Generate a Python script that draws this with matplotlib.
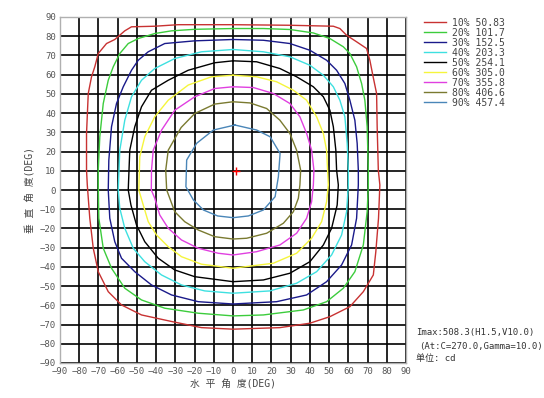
import matplotlib
matplotlib.use("Agg")
import matplotlib.pyplot as plt

plt.rcParams['font.family'] = ['DejaVu Sans Mono', 'Noto Sans CJK SC']

# iso-candela contours, points (H deg, V deg), going round from the top
c10_x = [0, -28.5, -40.7, -52.8, -56.3, -61.5, -65.8, -70.1, -71.9, -73.6, -75.3, -76.2, -76.2, -75.8, -74.5, -72.7,
         -70.1, -64.9, -58, -47.6, -32, -16.4, 0, 24.4, 40, 50.4, 60.8, 67.8, 73, 74.3, 75.7, 76.4, 75.6, 75, 74.7,
         72.9, 71.2, 69.5, 64.3, 59.1, 55.6, 52.2, 29.6]
c10_y = [86, 86, 85.2, 84.9, 82.8, 78.3, 76.2, 71, 64.1, 58.9, 50.2, 29.4, 10.3, 2.6, -14.7, -30.3,
         -42.5, -52.9, -59.8, -65, -68.4, -71.6, -72.4, -71.6, -69.3, -65.9, -60.7, -52.9, -44.2, -32.1, -14.7, 2.6,
         10.3, 32.9, 50.2, 58.9, 67.5, 73.6, 77.1, 80.5, 84, 85.2, 85.7]

c20_x = [0, -19.9, -32, -40.7, -49.3, -54.5, -58.9, -62.3, -64.9, -67.5, -69.3, -70.1, -70.1, -69.8, -67.5, -63.2,
         -56.3, -47.6, -35.5, -18.1, 0, 15.8, 36.6, 48.7, 57.4, 63.4, 67.8, 69.8, 70.4, 70.4, 69.8, 68.6, 66.9, 64.3,
         60.8, 57.4, 50.4, 41.8, 29.6, 15.8]
c20_y = [84, 83.6, 82.8, 81.4, 78.8, 76.2, 71, 64.1, 57.1, 45, 27.7, 10.3, 2.6, -14.7, -30.3, -40.7,
         -51.1, -57.2, -61.5, -64.1, -65.5, -65, -62.4, -58.1, -51.1, -42.5, -28.6, -11.3, 2.6, 10.3, 32.9, 46.7, 55.4,
         64.1, 71, 74.5, 78.8, 81.7, 83.5, 84]

c30_x = [0, -19.9, -35.5, -44.1, -49.3, -52.8, -57.1, -60.6, -63.2, -64.6, -64.9, -64.1, -61.5, -58, -51.1, -42.4,
         -32, -18.1, 0, 22.7, 38.3, 48.7, 56.5, 61.7, 64.3, 65.2, 65.2, 64.6, 63.4, 60.8, 58.2, 53.9, 48.7, 40, 29.6,
         15.8]
c30_y = [78.3, 77.6, 76.2, 71.9, 67.5, 62.3, 53.7, 45, 32.9, 15.5, 0, -14.7, -26.9, -35.5, -42.5, -49.4,
         -54.6, -58.1, -59.3, -58.1, -54.6, -47.7, -39, -28.6, -14.7, 2.6, 10.3, 24.2, 36.3, 46.7, 55.4, 62.3, 67.5,
         72.7, 76.2, 77.9]

c40_x = [0, -16.4, -30.3, -40.7, -47.6, -52.8, -56.3, -58.9, -59.7, -58.9, -56.3, -51.9, -45.9, -37.2, -26.8, -14.7,
         0, 19.2, 33.1, 43.5, 51.3, 56.5, 59.1, 60, 60, 59.4, 58.2, 55.6, 52.2, 47, 40, 29.6, 15.8]
c40_y = [73.1, 71.9, 68.4, 63.2, 57.1, 48.5, 36.3, 20.7, 0, -9.5, -19.9, -30.3, -37.3, -44.2, -49.4, -52.5,
         -53.7, -52.5, -48.5, -42.5, -33.8, -23.4, -11.3, 2.6, 10.3, 24.2, 38.1, 46.7, 53.7, 59.7, 64.9, 69.3, 71.9]

c50_x = [0, -9.5, -23.3, -33.7, -42.4, -47.6, -51.1, -53.7, -54.5, -53.1, -50.2, -45.9, -38.9, -30.3, -19.9, 0,
         15.8, 29.6, 40, 47, 51.3, 54.2, 54.8, 53.9, 53.5, 52.2, 50.4, 47, 41.8, 33.1, 24.4, 12.3]
c50_y = [67.2, 66.2, 62.3, 57.1, 51.9, 43.3, 32.9, 20.7, 0, -7.8, -18.2, -26.9, -35.5, -41.6, -45.1, -47.7,
         -46.8, -43.3, -37.3, -28.6, -19.9, -7.8, 2.6, 10.3, 20.7, 32.9, 41.5, 48.5, 53.7, 58.9, 63.2, 66.7]

c60_x = [0, -11.2, -23.3, -33.7, -40.7, -45.9, -48.5, -49, -47.2, -44.1, -39.8, -33.7, -26.8, -16.4, 0, 21,
         33.1, 40.9, 46.1, 48.7, 49.6, 49.2, 48.7, 47, 43.5, 38.3, 31.4, 22.7, 12.3]
c60_y = [59.7, 58.9, 54.6, 46.7, 38.1, 27.7, 17.3, 0, -6.1, -16.5, -23.4, -29.5, -34.7, -38.6, -40.7, -38.1,
         -32.9, -25.1, -16.5, -6.1, 2.6, 10.3, 20.7, 29.4, 38.1, 46.7, 51.9, 56.3, 58.9]

c70_x = [0, -9.5, -19.9, -30.3, -37.2, -41.5, -42.4, -42.5, -40.7, -38.1, -33.7, -26.8, -18.1, -7.7, 0, 12.3,
         24.4, 33.1, 38.3, 40.9, 41.8, 42.1, 40.9, 38.3, 34.8, 29.6, 21, 10.6]
c70_y = [53.7, 52.8, 48.5, 41.5, 31.1, 20.7, 10.3, 0, -4.3, -13, -19.9, -26, -30.3, -32.9, -33.8, -32.1,
         -28.6, -22.5, -14.7, -6.1, 2.6, 10.3, 20.7, 29.4, 38.1, 45, 50.2, 53.3]

c80_x = [0, -9.5, -19.9, -27, -33.7, -35, -34.5, -32.9, -30.3, -25.1, -18.1, -9.5, 0, 7.1, 17.5, 26.2,
         31.4, 34, 34.8, 35.2, 33.1, 29.6, 24.4, 17.5, 8.8]
c80_y = [45.9, 44.7, 39.8, 32.5, 20.7, 10.3, 0, -4.3, -11.3, -16.5, -20.8, -24.3, -25.5, -25.1, -22.5, -17.3,
         -11.3, -4.3, 2.6, 10.3, 20.7, 29.4, 36.3, 42.4, 45.3]

c90_x = [1, -10.2, -18.9, -24.1, -24.5, -20.6, -15.4, -8, 0, 8, 15.8, 21.9, 23.6, 24.5, 19.3, 12.3]
c90_y = [33.8, 31.2, 24.3, 15.6, 1.7, -5.2, -10.4, -13.5, -14.4, -13.5, -10.4, -3.5, 6.9, 19, 27.7, 31.2]

labels = ['10% 50.83', '20% 101.7', '30% 152.5', '40% 203.3', '50% 254.1',
          '60% 305.0', '70% 355.8', '80% 406.6', '90% 457.4']
colors = ['#c83232', '#3ccc3c', '#1a1a8a', '#3ee0e0', '#000000',
          '#f5f53c', '#e040e0', '#7a7a30', '#4a86b8']
xs_all = [c10_x, c20_x, c30_x, c40_x, c50_x, c60_x, c70_x, c80_x, c90_x]
ys_all = [c10_y, c20_y, c30_y, c40_y, c50_y, c60_y, c70_y, c80_y, c90_y]

imax_h, imax_v = 1.5, 10.0
ticks = list(range(-90, 91, 10))

fig = plt.figure(figsize=(5.44, 3.98), dpi=100)
ax = fig.add_axes([60 / 544, 35 / 398, 346 / 544, 346 / 398])

for xs, ys, c, lab in zip(xs_all, ys_all, colors, labels):
    ax.plot(xs + [xs[0]], ys + [ys[0]], color=c, lw=1.0, label=lab)

# where Imax is
ax.plot([imax_h], [imax_v], marker='+', color='red', ms=6, mew=1)

ax.set_xlim(-90, 90)
ax.set_ylim(-90, 90)
ax.set_xticks(ticks)
ax.set_yticks(ticks)
ax.grid(color='black', lw=1.2)
ax.set_axisbelow(True)
for s in ax.spines.values():
    s.set_color('#b0b0b0')
    s.set_linewidth(1)
ax.tick_params(length=0, labelsize=6.5, labelcolor='#555555', pad=3)

ax.set_xlabel('水 平 角 度(DEG)', fontsize=7, color='#444444', labelpad=2)
ax.set_ylabel('垂 直 角 度(DEG)', fontsize=7, color='#444444', labelpad=3)

fig.legend(loc='upper left', bbox_to_anchor=(420 / 544, 1 - 14 / 398), frameon=False,
           fontsize=7, handlelength=2.3, handletextpad=0.6, labelspacing=0.0,
           labelcolor='#444444', borderaxespad=0)

fig.text(416 / 544, 1 - 333 / 398, 'Imax:508.3(H1.5,V10.0)', fontsize=6.5, color='#333333', va='center')
fig.text(419 / 544, 1 - 346 / 398, '(At:C=270.0,Gamma=10.0)', fontsize=6.5, color='#333333', va='center')
fig.text(416 / 544, 1 - 359 / 398, '单位: cd', fontsize=6.5, color='#333333', va='center')

fig.savefig('out.png', dpi=100)
